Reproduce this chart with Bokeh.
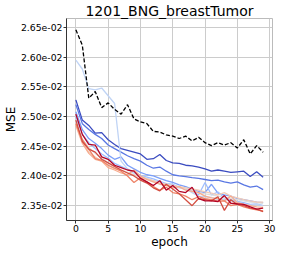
from bokeh.plotting import figure
from bokeh.models import FixedTicker, Range1d
from bokeh.embed import file_html
from bokeh.resources import INLINE

epochs = list(range(30))

baseline = [2.646, 2.620, 2.531, 2.542, 2.515, 2.523, 2.512, 2.504, 2.520, 2.496,
            2.491, 2.488, 2.475, 2.474, 2.469, 2.467, 2.463, 2.467, 2.459, 2.465,
            2.456, 2.451, 2.456, 2.452, 2.456, 2.447, 2.461, 2.437, 2.451, 2.440]

s0 = [2.528, 2.494, 2.485, 2.472, 2.473, 2.461, 2.453, 2.446, 2.443, 2.440,
      2.437, 2.428, 2.429, 2.436, 2.426, 2.422, 2.421, 2.418, 2.417, 2.415,
      2.412, 2.408, 2.410, 2.408, 2.406, 2.407, 2.408, 2.399, 2.407, 2.398]
s1 = [2.520, 2.488, 2.478, 2.470, 2.463, 2.452, 2.446, 2.440, 2.434, 2.429,
      2.425, 2.418, 2.413, 2.415, 2.408, 2.402, 2.400, 2.399, 2.397, 2.396,
      2.394, 2.392, 2.393, 2.390, 2.388, 2.390, 2.385, 2.381, 2.383, 2.377]
s2 = [2.508, 2.478, 2.463, 2.455, 2.446, 2.435, 2.428, 2.432, 2.418, 2.412,
      2.406, 2.402, 2.400, 2.396, 2.392, 2.389, 2.385, 2.382, 2.378, 2.374,
      2.372, 2.386, 2.371, 2.368, 2.366, 2.362, 2.360, 2.358, 2.356, 2.355]
s3 = [2.500, 2.470, 2.456, 2.446, 2.437, 2.430, 2.421, 2.416, 2.411, 2.405,
      2.401, 2.398, 2.395, 2.391, 2.387, 2.386, 2.381, 2.378, 2.375, 2.368,
      2.389, 2.368, 2.373, 2.363, 2.360, 2.357, 2.355, 2.352, 2.353, 2.350]
s4 = [2.595, 2.580, 2.547, 2.545, 2.548, 2.535, 2.522, 2.425, 2.412, 2.405,
      2.400, 2.396, 2.392, 2.390, 2.385, 2.382, 2.380, 2.378, 2.372, 2.366,
      2.365, 2.364, 2.360, 2.361, 2.358, 2.356, 2.353, 2.351, 2.352, 2.350]
s5 = [2.492, 2.462, 2.448, 2.438, 2.430, 2.422, 2.415, 2.410, 2.406, 2.402,
      2.398, 2.394, 2.390, 2.388, 2.385, 2.383, 2.381, 2.379, 2.376, 2.372,
      2.370, 2.368, 2.366, 2.364, 2.362, 2.360, 2.358, 2.356, 2.355, 2.354]
s6 = [2.488, 2.458, 2.440, 2.432, 2.425, 2.418, 2.412, 2.410, 2.405, 2.402,
      2.398, 2.395, 2.392, 2.388, 2.386, 2.384, 2.382, 2.380, 2.378, 2.376,
      2.373, 2.371, 2.368, 2.372, 2.366, 2.363, 2.360, 2.358, 2.356, 2.356]
s7 = [2.485, 2.455, 2.438, 2.428, 2.425, 2.414, 2.410, 2.405, 2.402, 2.410,
      2.400, 2.394, 2.390, 2.386, 2.384, 2.380, 2.382, 2.376, 2.374, 2.372,
      2.366, 2.363, 2.362, 2.358, 2.366, 2.355, 2.352, 2.350, 2.348, 2.347]
s8 = [2.488, 2.461, 2.445, 2.429, 2.426, 2.418, 2.413, 2.408, 2.400, 2.389,
      2.397, 2.390, 2.382, 2.376, 2.381, 2.372, 2.370, 2.366, 2.360, 2.365,
      2.362, 2.360, 2.357, 2.358, 2.350, 2.352, 2.348, 2.345, 2.343, 2.341]
s9 = [2.494, 2.458, 2.445, 2.440, 2.428, 2.422, 2.416, 2.410, 2.405, 2.400,
      2.393, 2.388, 2.380, 2.375, 2.386, 2.378, 2.370, 2.360, 2.350, 2.362,
      2.360, 2.358, 2.365, 2.342, 2.360, 2.352, 2.350, 2.346, 2.344, 2.340]
s10 = [2.504, 2.470, 2.453, 2.452, 2.432, 2.428, 2.418, 2.414, 2.410, 2.408,
       2.396, 2.390, 2.384, 2.392, 2.376, 2.384, 2.374, 2.372, 2.381, 2.362,
       2.358, 2.358, 2.357, 2.367, 2.354, 2.353, 2.352, 2.348, 2.344, 2.346]

series = [s0, s1, s2, s3, s4, s5, s6, s7, s8, s9, s10]
colors = ["#3b4cc0", "#5977e3", "#7b9ff9", "#9ebeff", "#c0d4f5", "#dddddd",
          "#f2cbb7", "#f7ac8e", "#ee8468", "#d44e41", "#b40426"]

y_ticks = [0.0235, 0.0240, 0.0245, 0.0250, 0.0255, 0.0260, 0.0265]
y_tick_labels = ["2.35e-02", "2.40e-02", "2.45e-02", "2.50e-02", "2.55e-02", "2.60e-02", "2.65e-02"]
x_ticks = [0, 5, 10, 15, 20, 25, 30]

FONT = "DejaVu Sans"

p = figure(width=276, height=251, output_backend="svg", toolbar_location=None,
           title="1201_BNG_breastTumor",
           x_range=Range1d(-1.45, 30.45), y_range=Range1d(0.02325, 0.02665),
           min_border_left=0, min_border_right=4, min_border_top=0, min_border_bottom=0)

p.title.text_font = FONT
p.title.text_font_size = "14px"
p.title.text_font_style = "normal"
p.title.align = "center"
p.title.standoff = 0
p.title.text_color = "#000000"

for s, c in zip(series, colors):
    p.line(epochs, [v * 0.01 for v in s], line_color=c, line_width=1.3)
p.line(epochs, [v * 0.01 for v in baseline], line_color="#000000", line_width=1.3, line_dash="4 2")

p.xaxis.ticker = FixedTicker(ticks=x_ticks)
p.yaxis.ticker = FixedTicker(ticks=y_ticks)
p.yaxis.major_label_overrides = {t: l for t, l in zip(y_ticks, y_tick_labels)}
p.xaxis.axis_label = "epoch"
p.yaxis.axis_label = "MSE"
for ax in (p.xaxis, p.yaxis):
    ax.axis_label_text_font = FONT
    ax.axis_label_text_font_size = "12px"
    ax.axis_label_text_font_style = "normal"
    ax.axis_label_text_color = "#000000"
    ax.axis_label_standoff = 0
    ax.major_label_text_font = FONT
    ax.major_label_text_font_size = "9.3px"
    ax.major_label_text_color = "#000000"
    ax.major_label_standoff = 1
    ax.major_tick_out = 3
    ax.major_tick_in = 0
    ax.minor_tick_out = 0
    ax.minor_tick_in = 0
    ax.axis_line_color = "#333333"
    ax.major_tick_line_color = "#333333"

p.xgrid.grid_line_color = "#cccccc"
p.ygrid.grid_line_color = "#cccccc"
p.outline_line_color = "#bbbbbb"
p.background_fill_color = "white"
p.border_fill_color = "white"

open("out.html", "w").write(file_html(p, INLINE))
